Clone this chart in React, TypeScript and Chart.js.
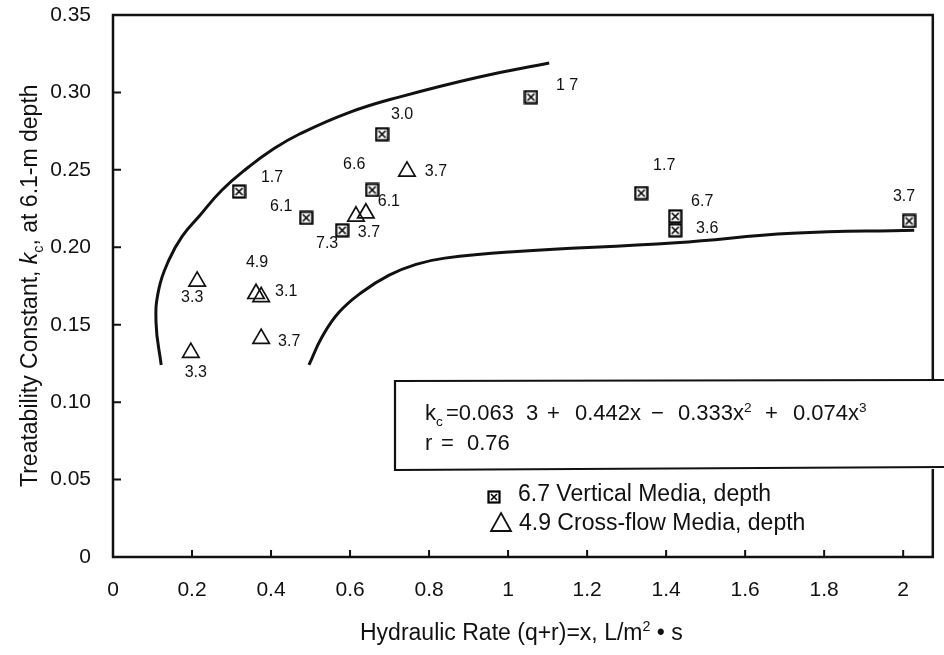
import React, { useEffect, useRef } from "react";
import { Chart, registerables } from "chart.js";

Chart.register(...registerables);

// ---------- data ----------
const X_TICKS = [0, 0.2, 0.4, 0.6, 0.8, 1.0, 1.2, 1.4, 1.6, 1.8, 2.0];
const X_TICK_LABELS = ["0", "0.2", "0.4", "0.6", "0.8", "1", "1.2", "1.4", "1.6", "1.8", "2"];
const Y_TICKS = [0, 0.05, 0.1, 0.15, 0.2, 0.25, 0.3, 0.35];
const Y_TICK_LABELS = ["0", "0.05", "0.10", "0.15", "0.20", "0.25", "0.30", "0.35"];

// Vertical media, depth 6.7 (boxed-cross squares)
const VERT_X = [0.319, 0.489, 0.58, 0.656, 0.681, 1.058, 1.337, 1.423, 1.423, 2.015];
const VERT_Y = [0.236, 0.219, 0.211, 0.237, 0.273, 0.297, 0.235, 0.22, 0.211, 0.217];
const VERT_LABELS = ["1.7", "6.1", "7.3", "6.6", "3.0", "1 7", "1.7", "6.7", "3.6", "3.7"];

// Cross-flow media, depth 4.9 (triangles)
const CROSS_X = [0.213, 0.362, 0.375, 0.197, 0.375, 0.615, 0.64, 0.744];
const CROSS_Y = [0.178, 0.17, 0.168, 0.132, 0.141, 0.22, 0.222, 0.249];
const CROSS_LABELS = ["3.3", "4.9", "3.1", "3.3", "3.7", "3.7", "6.1", "3.7"];

// Envelope curves
const UPPER_X = [0.122, 0.109, 0.116, 0.142, 0.175, 0.218, 0.276, 0.344, 0.403, 0.471, 0.597, 0.724, 0.927, 1.104];
const UPPER_Y = [0.124, 0.151, 0.173, 0.192, 0.207, 0.22, 0.237, 0.252, 0.263, 0.273, 0.287, 0.297, 0.31, 0.319];
const LOWER_X = [0.496, 0.529, 0.572, 0.63, 0.699, 0.767, 0.84, 1.003, 1.425, 1.719, 2.028];
const LOWER_Y = [0.124, 0.142, 0.158, 0.171, 0.182, 0.189, 0.193, 0.197, 0.203, 0.209, 0.211];

// ---------- layout (label placement, pixels) ----------
const VERT_LABEL_OFFSETS = [[33, -14], [-25, -11], [-15, 13], [-18, -25], [20, -20], [36, -11], [23, -27], [27, -15], [32, -2], [-5, -24]];
const CROSS_LABEL_OFFSETS = [[-5, 16], [1, -31], [25, -5], [5, 20], [28, 3], [13, 16], [23, -12], [29, 0]];

const FONT = "'Liberation Sans', Arial, Helvetica, sans-serif";
const INK = "#111";

function makeBoxX(size: number) {
  const c = document.createElement("canvas");
  c.width = size;
  c.height = size;
  const g = c.getContext("2d")!;
  g.fillStyle = "#fff";
  g.fillRect(1, 1, size - 2, size - 2);
  g.strokeStyle = "#000";
  g.lineWidth = 2.2;
  g.strokeRect(1.5, 1.5, size - 3, size - 3);
  g.lineWidth = 1.6;
  g.beginPath();
  g.moveTo(4, 4);
  g.lineTo(size - 4, size - 4);
  g.moveTo(size - 4, 4);
  g.lineTo(4, size - 4);
  g.stroke();
  return c;
}

type Seg = { t: string; mode?: "sub" | "sup" | "it"; x?: number };

function drawSegs(ctx: CanvasRenderingContext2D, segs: Seg[], x: number, y: number, size: number) {
  let cx = x;
  for (const s of segs) {
    if (s.x !== undefined) cx = s.x;
    let fs = size;
    let dy = 0;
    let style = "";
    if (s.mode === "sub") {
      fs = size * 0.62;
      dy = size * 0.28;
    } else if (s.mode === "sup") {
      fs = size * 0.62;
      dy = -size * 0.38;
    } else if (s.mode === "it") {
      style = "italic ";
    }
    ctx.font = `${style}${fs}px ${FONT}`;
    ctx.fillText(s.t, cx, y + dy);
    cx += ctx.measureText(s.t).width;
  }
}

export default function App() {
  const ref = useRef<HTMLCanvasElement | null>(null);

  useEffect(() => {
    if (!ref.current) return;
    const boxX = makeBoxX(15);
    const boxXLegend = makeBoxX(14);

    const annot = {
      id: "annot",
      afterDatasetsDraw(chart: any) {
        const ctx: CanvasRenderingContext2D = chart.ctx;
        const xs = chart.scales.x;
        const ys = chart.scales.y;
        const a = chart.chartArea;
        ctx.save();
        // frame
        ctx.strokeStyle = INK;
        ctx.lineWidth = 2.5;
        ctx.strokeRect(a.left, a.top, a.right - a.left, a.bottom - a.top);
        // inward ticks
        ctx.lineWidth = 2;
        ctx.beginPath();
        X_TICKS.forEach((v) => {
          if (v === 0) return;
          const px = xs.getPixelForValue(v);
          ctx.moveTo(px, a.bottom);
          ctx.lineTo(px, a.bottom - 7);
        });
        Y_TICKS.forEach((v) => {
          if (v === 0 || v === 0.35) return;
          const py = ys.getPixelForValue(v);
          ctx.moveTo(a.left, py);
          ctx.lineTo(a.left + 8, py);
        });
        ctx.stroke();

        // point labels
        ctx.fillStyle = INK;
        ctx.font = `16px ${FONT}`;
        ctx.textAlign = "center";
        ctx.textBaseline = "middle";
        VERT_X.forEach((x, i) => {
          const px = xs.getPixelForValue(x) + VERT_LABEL_OFFSETS[i][0];
          const py = ys.getPixelForValue(VERT_Y[i]) + VERT_LABEL_OFFSETS[i][1];
          ctx.fillText(VERT_LABELS[i], px, py);
        });
        CROSS_X.forEach((x, i) => {
          const px = xs.getPixelForValue(x) + CROSS_LABEL_OFFSETS[i][0];
          const py = ys.getPixelForValue(CROSS_Y[i]) + CROSS_LABEL_OFFSETS[i][1];
          ctx.fillText(CROSS_LABELS[i], px, py);
        });

        // equation box
        ctx.fillStyle = "#fff";
        ctx.fillRect(395, 381, 560, 88);
        ctx.strokeStyle = INK;
        ctx.lineWidth = 2.2;
        ctx.beginPath();
        ctx.moveTo(948, 380);
        ctx.lineTo(395, 381);
        ctx.lineTo(395, 470);
        ctx.lineTo(948, 467);
        ctx.stroke();
        ctx.fillStyle = INK;
        ctx.textAlign = "left";
        ctx.textBaseline = "alphabetic";
        drawSegs(
          ctx,
          [
            { t: "k" },
            { t: "c", mode: "sub" },
            { t: "=0.063", x: 446 },
            { t: "3", x: 526 },
            { t: "+", x: 547 },
            { t: "0.442x", x: 575 },
            { t: "\u2212", x: 651 },
            { t: "0.333x", x: 678 },
            { t: "2", mode: "sup" },
            { t: "+", x: 765 },
            { t: "0.074x", x: 793 },
            { t: "3", mode: "sup" },
          ],
          425,
          420,
          22
        );
        drawSegs(ctx, [{ t: "r" }, { t: "=", x: 441 }, { t: "0.76", x: 467 }], 425, 450, 22);

        // legend
        ctx.drawImage(boxXLegend, 487, 490);
        ctx.font = `23px ${FONT}`;
        ctx.fillText("6.7 Vertical Media, depth", 518, 501);
        ctx.lineWidth = 1.8;
        ctx.beginPath();
        ctx.moveTo(501, 513);
        ctx.lineTo(511, 531);
        ctx.lineTo(491, 531);
        ctx.closePath();
        ctx.stroke();
        ctx.fillText("4.9 Cross-flow Media, depth", 519, 530);

        // axis titles
        drawSegs(
          ctx,
          [
            { t: "Hydraulic Rate (q+r)=x, L/m" },
            { t: "2", mode: "sup" },
            { t: " \u2022 s" },
          ],
          360,
          640,
          23
        );
        ctx.translate(37, 487);
        ctx.rotate(-Math.PI / 2);
        drawSegs(
          ctx,
          [
            { t: "Treatability Constant, " },
            { t: "k", mode: "it" },
            { t: "c", mode: "sub" },
            { t: ", at 6.1-m depth" },
          ],
          0,
          0,
          23
        );
        ctx.restore();
      },
    };

    const chart = new Chart(ref.current, {
      type: "scatter",
      data: {
        datasets: [
          {
            label: "6.7 Vertical Media, depth",
            data: VERT_X.map((x, i) => ({ x, y: VERT_Y[i] })),
            pointStyle: boxX as any,
            pointRadius: 7,
            showLine: false,
          },
          {
            label: "4.9 Cross-flow Media, depth",
            data: CROSS_X.map((x, i) => ({ x, y: CROSS_Y[i] })),
            pointStyle: "triangle",
            pointRadius: 9.5,
            borderColor: INK,
            borderWidth: 1.7,
            backgroundColor: "rgba(255,255,255,0)",
            showLine: false,
          },
          {
            label: "upper",
            data: UPPER_X.map((x, i) => ({ x, y: UPPER_Y[i] })),
            showLine: true,
            pointRadius: 0,
            borderColor: INK,
            borderWidth: 3,
            tension: 0.45,
          },
          {
            label: "lower",
            data: LOWER_X.map((x, i) => ({ x, y: LOWER_Y[i] })),
            showLine: true,
            pointRadius: 0,
            borderColor: INK,
            borderWidth: 3,
            tension: 0.45,
          },
        ],
      },
      options: {
        animation: false,
        responsive: false,
        layout: { padding: { top: 15, right: 7, left: 0, bottom: 0 } },
        plugins: { legend: { display: false }, tooltip: { enabled: false } },
        scales: {
          x: {
            type: "linear",
            min: 0,
            max: 2.075,
            grid: { display: false },
            border: { display: false },
            afterBuildTicks: (s: any) => {
              s.ticks = X_TICKS.map((v) => ({ value: v }));
            },
            afterFit: (s: any) => {
              s.height = 98;
              s.paddingLeft = 0;
              s.paddingRight = 0;
            },
            ticks: {
              autoSkip: false,
              maxRotation: 0,
              padding: 13,
              color: INK,
              font: { family: FONT, size: 21 },
              callback: (v: any, i: number) => X_TICK_LABELS[i],
            },
          },
          y: {
            type: "linear",
            min: 0,
            max: 0.35,
            grid: { display: false },
            border: { display: false },
            afterBuildTicks: (s: any) => {
              s.ticks = Y_TICKS.map((v) => ({ value: v }));
            },
            afterFit: (s: any) => {
              s.width = 113;
              s.paddingTop = 0;
              s.paddingBottom = 0;
            },
            ticks: {
              autoSkip: false,
              padding: 14,
              color: INK,
              font: { family: FONT, size: 21 },
              callback: (v: any, i: number) => Y_TICK_LABELS[i],
            },
          },
        },
      },
      plugins: [annot],
    });
    return () => chart.destroy();
  }, []);

  return (
    <div style={{ position: "fixed", left: 0, top: 0, width: 944, height: 655, background: "#fff" }}>
      <canvas ref={ref} width={944} height={655} />
    </div>
  );
}
